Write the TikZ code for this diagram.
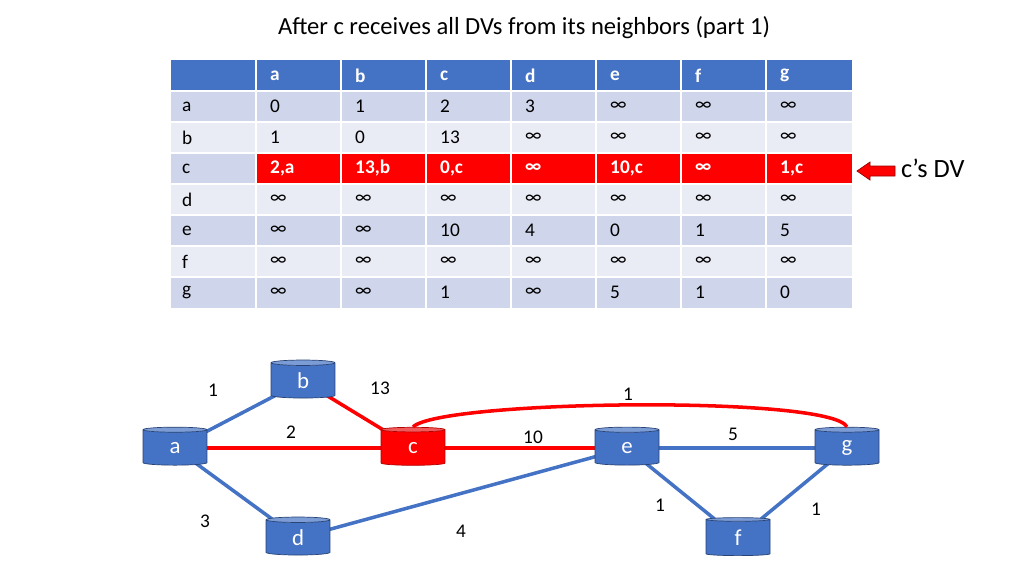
\documentclass[tikz,border=0pt]{standalone}
\usepackage{fontspec}
\setmainfont{Carlito}
\usetikzlibrary{shapes.geometric,backgrounds}
\definecolor{hdr}{RGB}{68,114,196}
\definecolor{rowd}{RGB}{207,213,234}
\definecolor{rowl}{RGB}{233,235,245}
\definecolor{hot}{RGB}{255,0,0}
\definecolor{hotcyl}{RGB}{240,90,90}
\tikzset{
  cyl/.style={shape=cylinder, shape border rotate=90, aspect=0.35, draw=hdr!60!black, cylinder uses custom fill,
    cylinder body fill=hdr, cylinder end fill=hdr!70!white, minimum width=1.28cm, minimum height=0.76cm,
    text=white, font=\fontsize{13}{13}\selectfont, inner sep=1pt},
  hotcyl/.style={cyl, draw=red!70!black, cylinder body fill=hot, cylinder end fill=hotcyl},
  blink/.style={draw=hdr, line width=2pt},
  rlink/.style={draw=hot, line width=2pt},
  wt/.style={font=\fontsize{11}{11}\selectfont},
  cell/.style={anchor=west, font=\fontsize{11}{11}\selectfont}
}
\begin{document}
\begin{tikzpicture}[x=0.02cm,y=-0.02cm]
\useasboundingbox (0,0) rectangle (1024,576);
\node (title) at (524,28) {\fontsize{14}{14}\selectfont After c receives all DVs from its neighbors (part 1)};
% table
\fill[hdr] (171,60) rectangle (852,91);
\foreach \r/\col [count=\i] in {a/rowd,b/rowl,c/rowd,d/rowl,e/rowd,f/rowl,g/rowd}{
  \fill[\col] (171,{60+31*\i}) rectangle (852,{91+31*\i});
  \node[cell] (r\r) at (176,{75.5+31*\i}) {\r};
}
\fill[hot] (256,153) rectangle (852,184);
\foreach \x in {256,341,...,766} \draw[white,line width=1.2pt] (\x,60) -- (\x,308);
\foreach \i in {1,...,7} \draw[white,line width=1.2pt] (171,{60+31*\i}) -- (852,{60+31*\i});
\foreach \h [count=\j] in {a,b,c,d,e,f,g}
  \node[cell,text=white,font=\bfseries\fontsize{11}{11}\selectfont] (h\h) at ({256+85*(\j-1)+8},75.5) {\h};
\foreach \rw/\vals in {1/{0,1,2,3,∞,∞,∞},
  2/{1,0,13,∞,∞,∞,∞},
  4/{∞,∞,∞,∞,∞,∞,∞},
  5/{∞,∞,10,4,0,1,5},
  6/{∞,∞,∞,∞,∞,∞,∞},
  7/{∞,∞,1,∞,5,1,0}}{
  \foreach \v [count=\j] in \vals
    \node[cell] (v\rw\j) at ({256+85*(\j-1)+8},{75.5+31*\rw}) {\v};
}
\foreach \v [count=\j] in {2{,}a,13{,}b,0{,}c,∞,10{,}c,∞,1{,}c}
  \node[cell,text=white,font=\bfseries\fontsize{11}{11}\selectfont] (v3\j) at ({256+85*(\j-1)+8},168.5) {\v};
% arrow
\fill[hot,draw=red!60!black] (895,166) -- (870,166) -- (870,162) -- (857,171) -- (870,180) -- (870,176) -- (895,176) -- cycle;
\node[anchor=west,font=\fontsize{15}{15}\selectfont] (dv) at (895,168) {c’s DV};
% graph
\node[cyl] (b) at (303,381) {b};
\node[cyl] (a) at (175,448) {a};
\node[hotcyl] (c) at (413,448) {c};
\node[cyl] (e) at (627,448) {e};
\node[cyl] (g) at (847,448) {g};
\node[cyl] (d) at (298,538) {d};
\node[cyl] (f) at (738,538) {f};
\begin{scope}[on background layer]
\draw[blink] (a.center) -- (b.center);
\draw[blink] (a.center) -- (d.center);
\draw[blink] (d.center) -- (e.center);
\draw[blink] (e.center) -- (g.center);
\draw[blink] (e.center) -- (f.center);
\draw[blink] (f.center) -- (g.center);
\draw[rlink] (b.center) -- (c.center);
\draw[rlink] (a.center) -- (c.center);
\draw[rlink] (c.center) -- (e.center);
\end{scope}
\draw[rlink] (c.north) .. controls (440,400) and (830,395) .. (g.north);
\node[wt] (w1) at (213,390) {1};
\node[wt] (w2) at (380,388) {13};
\node[wt] (w3) at (628,394) {1};
\node[wt] (w4) at (291,432) {2};
\node[wt] (w5) at (533,437) {10};
\node[wt] (w6) at (733,434) {5};
\node[wt] (w7) at (660,505) {1};
\node[wt] (w8) at (816,509) {1};
\node[wt] (w9) at (205,521) {3};
\node[wt] (w10) at (461,531) {4};
\end{tikzpicture}
\end{document}
